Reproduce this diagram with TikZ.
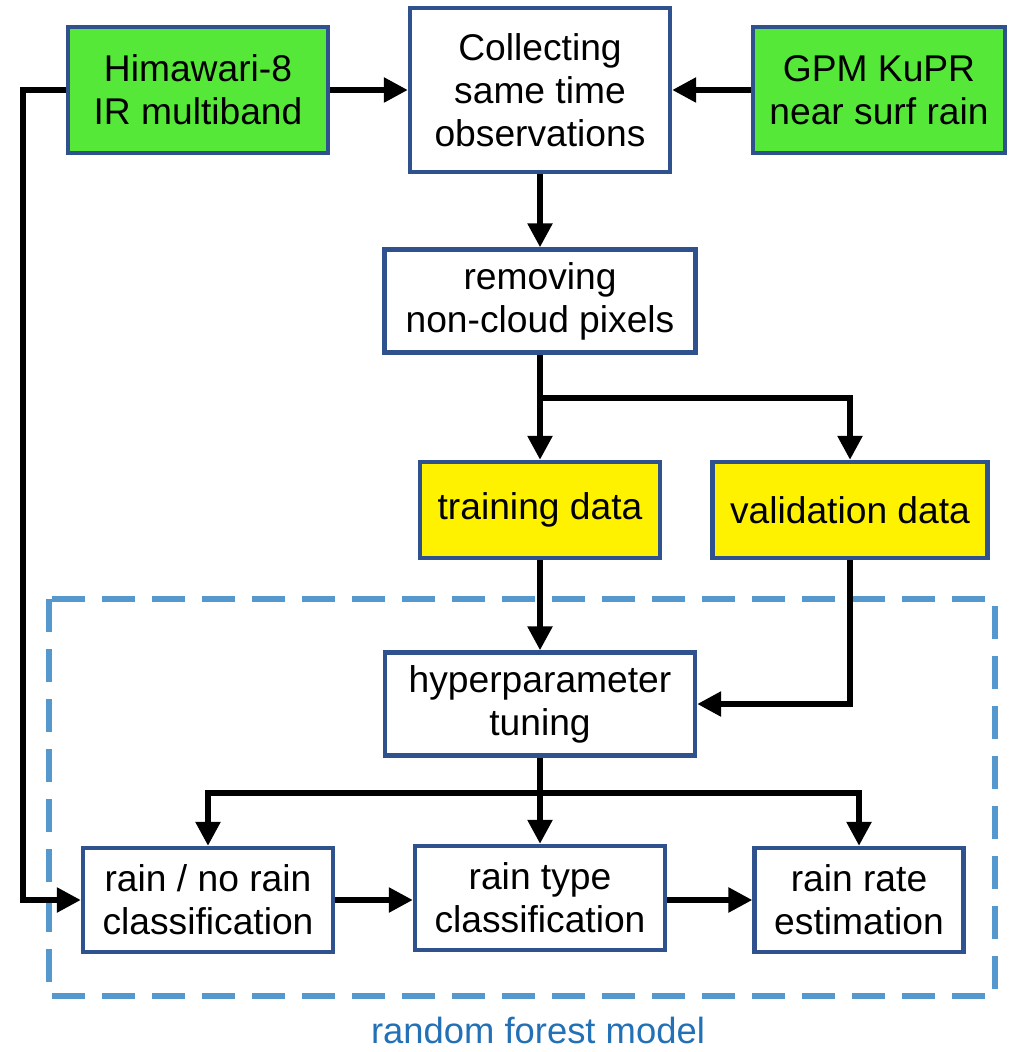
\documentclass[tikz,border=0pt]{standalone}
\usepackage{fontspec}
\setmainfont{Liberation Sans}
\usetikzlibrary{arrows.meta}
\definecolor{boxblue}{RGB}{47,82,143}
\definecolor{srcgreen}{RGB}{86,232,56}
\definecolor{dashblue}{RGB}{84,152,206}
\definecolor{labelblue}{RGB}{34,112,182}

\begin{document}
\begin{tikzpicture}[x=0.5pt,y=-0.5pt,
	box/.style={draw=boxblue, line width=2.2pt, fill=white, align=center, inner sep=1pt,
		font=\fontsize{18.6}{21.5}\selectfont},
	source/.style={box, fill=srcgreen},
	dataset/.style={box, fill=yellow},
	arr/.style={line width=2.8pt, -{Triangle[length=12pt,width=12pt]}},
	modelframe/.style={draw=dashblue, line width=2.6pt, dash pattern=on 16.5pt off 8.5pt}]
\useasboundingbox (0,0) rectangle (1008,1052);

% random forest frame
\draw[modelframe] (49,599) rectangle (995,996);
\node[text=labelblue, font=\fontsize{18.2}{21}\selectfont, inner sep=0pt] (rfm) at (538,1030) {random forest model};

% inputs
\node[source, minimum width=130pt, minimum height=63pt] (hima) at (198,90) {Himawari-8\\IR multiband};
\node[box, minimum width=130pt, minimum height=82pt] (coll) at (540,90) {Collecting\\same time\\observations};
\node[source, minimum width=126pt, minimum height=63pt] (gpm) at (879,90) {GPM KuPR\\near surf rain};

% data preparation
\node[box, minimum width=155.5pt, minimum height=51.5pt] (remo) at (540,301) {removing\\non-cloud pixels};
\node[dataset, minimum width=120pt, minimum height=48pt] (trai) at (540,510) {training data};
\node[dataset, minimum width=137.5pt, minimum height=48pt] (vali) at (850,510) {validation data};

% model
\node[box, minimum width=155pt, minimum height=51.5pt] (hyper) at (540,704) {hyperparameter\\tuning};
\node[box, minimum width=125pt, minimum height=52pt] (rnorain) at (208,900) {rain / no rain\\classification};
\node[box, minimum width=125pt, minimum height=52pt] (rtype) at (540,898) {rain type\\classification};
\node[box, minimum width=104.5pt, minimum height=52pt] (rrate) at (859,900) {rain rate\\estimation};

\coordinate (leftbus) at (23,90);
\coordinate (split1) at (540,398);
\coordinate (split2) at (540,793);

\draw[arr] (hima) -- (coll);
\draw[arr] (gpm) -- (coll);
\draw[arr] (coll) -- (remo);
\draw[arr] (remo) -- (trai);
\draw[arr] (split1) -| (vali);
\draw[arr] (trai) -- (hyper);
\draw[arr] (vali.south) |- (hyper.east);
\draw[arr] (hyper.south) -- (rtype.north);
\draw[arr] (split2) -| (rnorain.north);
\draw[arr] (split2) -| (rrate.north);
\draw[arr] (hima.west) -- (leftbus) |- (rnorain.west);
\draw[arr] (rnorain.east) -- (rtype.west |- rnorain.east);
\draw[arr] (rtype.east |- rrate.west) -- (rrate.west);
\end{tikzpicture}
\end{document}
